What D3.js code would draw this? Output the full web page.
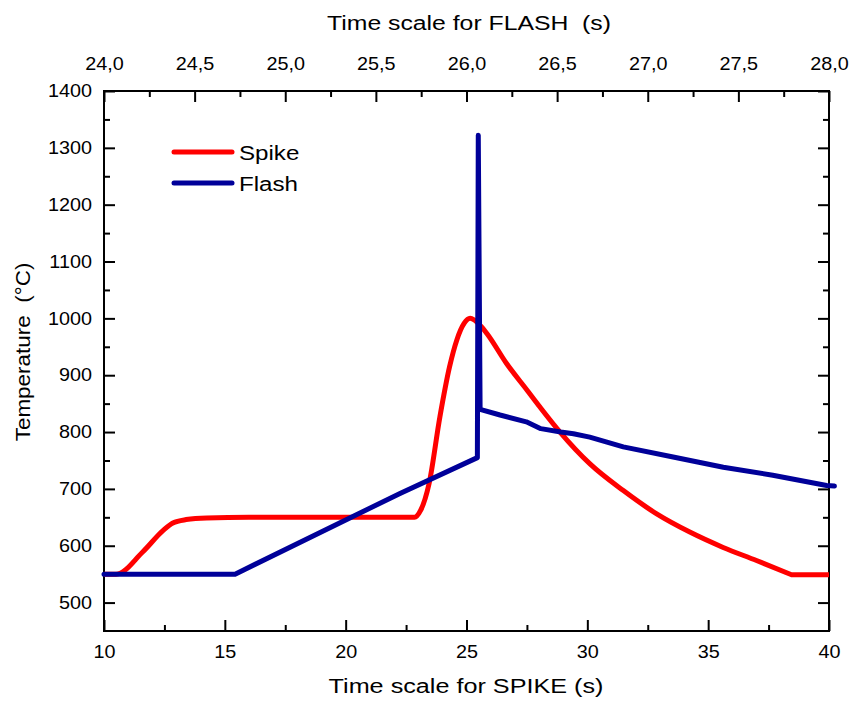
<!DOCTYPE html>
<html>
<head>
<meta charset="utf-8">
<style>
  body { margin: 0; background: #fff; }
  svg text { font-family: "Liberation Sans", Arial, sans-serif; fill: #000; }
</style>
</head>
<body>
<div id="chart"></div>
<script src="https://cdn.jsdelivr.net/npm/d3@7"></script>
<script>
// spike series, bottom axis time (s) / temperature (°C)
var spikeTime = [10, 10.5, 11.6, 12.45, 12.85, 13.4, 14.25, 16, 20, 22.85, 23.1, 23.45, 23.9, 24.3, 24.6, 24.9, 25.15, 25.6, 25.85, 26.65, 27.5, 28.04, 28.87, 30.11, 31.49, 32.87, 34.24, 35.62, 37.0, 38.45, 40];
var spikeTemp = [550, 550, 589, 627, 640, 646, 649, 650, 650, 650, 662, 709, 827, 915, 962, 991, 1000, 986, 973, 921, 874, 844, 800, 744, 697, 656, 624, 597, 574, 549, 549];

// flash series, top axis time (s)
var flashTime = [24.0, 24.723, 25.633, 26.06, 26.065, 26.075, 26.185, 26.33, 26.41, 26.52, 26.59, 26.68, 26.865, 27.14, 27.417, 27.69, 27.987, 28.03];
var flashTemp = [550, 550, 692, 755, 1322, 840, 830, 818, 806, 800, 797, 791, 774, 756, 738, 724, 706, 705];

var spikeTicks = [10, 15, 20, 25, 30, 35, 40];
var flashTicks = [24.0, 24.5, 25.0, 25.5, 26.0, 26.5, 27.0, 27.5, 28.0];
var tempTicks = [500, 600, 700, 800, 900, 1000, 1100, 1200, 1300, 1400];

var width = 859, height = 705;
var margin = {top: 91, right: 30, bottom: 74, left: 104};
var plotW = width - margin.left - margin.right,
    plotH = height - margin.top - margin.bottom;

var svg = d3.select("#chart").append("svg")
    .attr("width", width)
    .attr("height", height);

var x = d3.scaleLinear().domain([10, 40]).range([margin.left, margin.left + plotW]);
var xTop = d3.scaleLinear().domain([24, 28]).range([margin.left, margin.left + plotW]);
var y = d3.scaleLinear().domain([450, 1400]).range([margin.top + plotH, margin.top]);

var comma = d3.formatLocale({decimal: ",", thousands: ".", grouping: [3], currency: ["", ""]}).format(".1f");

function minorOf(ticks, step) {
  var out = [];
  for (var i = 0; i < ticks.length - 1; i++) out.push(ticks[i] + step);
  return out;
}

function styleAxis(g) {
  g.select(".domain").remove();
  g.selectAll(".tick line").attr("stroke", "#000").attr("stroke-width", 2);
  g.selectAll(".tick text").attr("font-size", 18).attr("fill", "#000")
    .attr("transform", "scale(1.1,1)");
}

// bottom axis
svg.append("g")
    .attr("transform", "translate(0," + (margin.top + plotH) + ")")
    .call(d3.axisBottom(x).tickValues(spikeTicks).tickSize(-11).tickPadding(14).tickFormat(d3.format("d")))
    .call(styleAxis);
svg.append("g")
    .attr("transform", "translate(0," + (margin.top + plotH) + ")")
    .call(d3.axisBottom(x).tickValues(minorOf(spikeTicks, 2.5)).tickSize(-6).tickFormat(""))
    .call(styleAxis);

// top axis
svg.append("g")
    .attr("transform", "translate(0," + margin.top + ")")
    .call(d3.axisTop(xTop).tickValues(flashTicks).tickSize(-11).tickPadding(21).tickFormat(comma))
    .call(styleAxis);
svg.append("g")
    .attr("transform", "translate(0," + margin.top + ")")
    .call(d3.axisTop(xTop).tickValues(minorOf(flashTicks, 0.25)).tickSize(-6).tickFormat(""))
    .call(styleAxis);

// left axis
svg.append("g")
    .attr("transform", "translate(" + margin.left + ",0)")
    .call(d3.axisLeft(y).tickValues(tempTicks).tickSize(-11).tickPadding(11).tickFormat(d3.format("d")))
    .call(styleAxis);
svg.append("g")
    .attr("transform", "translate(" + margin.left + ",0)")
    .call(d3.axisLeft(y).tickValues(minorOf(tempTicks, 50)).tickSize(-6).tickFormat(""))
    .call(styleAxis);

// right axis (mirror, no labels)
svg.append("g")
    .attr("transform", "translate(" + (margin.left + plotW) + ",0)")
    .call(d3.axisRight(y).tickValues(tempTicks).tickSize(-11).tickFormat(""))
    .call(styleAxis);
svg.append("g")
    .attr("transform", "translate(" + (margin.left + plotW) + ",0)")
    .call(d3.axisRight(y).tickValues(minorOf(tempTicks, 50)).tickSize(-6).tickFormat(""))
    .call(styleAxis);

// frame
svg.append("rect")
    .attr("x", margin.left).attr("y", margin.top)
    .attr("width", plotW).attr("height", plotH)
    .attr("fill", "none").attr("stroke", "#000").attr("stroke-width", 2);

// curves
var spikeData = spikeTime.map(function(t, i) { return [t, spikeTemp[i]]; });
var flashData = flashTime.map(function(t, i) { return [t, flashTemp[i]]; });

// smooth part of the spike, then a sharp corner onto the final flat stretch
var spikeLine = d3.line().x(d => x(d[0])).y(d => y(d[1])).curve(d3.curveMonotoneX);
var last = spikeData[spikeData.length - 1];
svg.append("path")
    .attr("fill", "none")
    .attr("stroke", "#ff0000")
    .attr("stroke-width", 5)
    .attr("stroke-linejoin", "round")
    .attr("d", spikeLine(spikeData.slice(0, -1)) + "L" + x(last[0]) + "," + y(last[1]));

svg.append("path")
    .datum(flashData)
    .attr("fill", "none")
    .attr("stroke", "#000099")
    .attr("stroke-width", 5)
    .attr("stroke-linejoin", "round")
    .attr("stroke-linecap", "round")
    .attr("d", d3.line().x(d => xTop(d[0])).y(d => y(d[1])));

// legend
var legendItems = [{name: "Spike", color: "#ff0000"}, {name: "Flash", color: "#000099"}];
var legend = svg.selectAll(".legend")
    .data(legendItems)
    .enter().append("g")
    .attr("class", "legend")
    .attr("transform", function(d, i) { return "translate(174," + (152 + i * 31) + ")"; });
legend.append("line")
    .attr("x1", 0).attr("x2", 58)
    .attr("stroke", d => d.color)
    .attr("stroke-width", 5)
    .attr("stroke-linecap", "round");
legend.append("text")
    .attr("transform", "translate(65,8) scale(1.15,1)")
    .attr("font-size", 21)
    .text(d => d.name);

// axis titles
svg.append("text")
    .attr("transform", "translate(466,693) scale(1.2,1)")
    .attr("text-anchor", "middle")
    .attr("font-size", 21)
    .text("Time scale for SPIKE (s)");

svg.append("text")
    .attr("transform", "translate(469,30) scale(1.18,1)")
    .attr("text-anchor", "middle")
    .attr("font-size", 21)
    .attr("xml:space", "preserve")
    .text("Time scale for FLASH  (s)");

svg.append("text")
    .attr("transform", "translate(30,352) rotate(-90) scale(1.07,1)")
    .attr("text-anchor", "middle")
    .attr("font-size", 21)
    .attr("xml:space", "preserve")
    .text("Temperature  (°C)");
</script>
</body>
</html>
